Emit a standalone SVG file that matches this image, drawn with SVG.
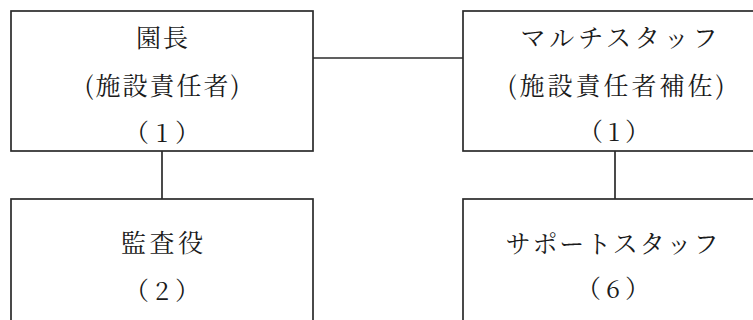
<svg xmlns="http://www.w3.org/2000/svg" width="753" height="320" viewBox="0 0 753 320">
<style>
.box{fill:#fff;stroke:#2b2b2b;stroke-width:1.7}
.ln{stroke:#2b2b2b;stroke-width:1.7;fill:none}
text{font-family:"Noto Serif CJK JP","Noto Sans CJK JP",serif;font-size:25px;fill:#1a1a1a;text-anchor:middle;dominant-baseline:central}
</style>
<rect width="753" height="320" fill="#fff"/>
<g id="connectors">
<line class="ln" x1="313" y1="58" x2="463" y2="58"/>
<line class="ln" x1="162" y1="151" x2="162" y2="199"/>
<line class="ln" x1="615" y1="151" x2="615" y2="199"/>
</g>
<g id="node-encho">
<rect class="box" x="11" y="11" width="302" height="140"/>
<text x="162" y="36" textLength="52" lengthAdjust="spacing">園長</text>
<text x="162" y="84" textLength="155" lengthAdjust="spacing">(施設責任者)</text>
<text x="162" y="131" textLength="76" lengthAdjust="spacing">（1）</text>
</g>
<g id="node-multi">
<rect class="box" x="463" y="11" width="300" height="140"/>
<text x="619" y="36" textLength="197" lengthAdjust="spacing">マルチスタッフ</text>
<text x="616" y="84" textLength="217" lengthAdjust="spacing">(施設責任者補佐)</text>
<text x="614" y="130" textLength="72" lengthAdjust="spacing">（1）</text>
</g>
<g id="node-kansa">
<rect class="box" x="11" y="199" width="302" height="140"/>
<text x="162" y="241" textLength="82" lengthAdjust="spacing">監査役</text>
<text x="162" y="289" textLength="76" lengthAdjust="spacing">（2）</text>
</g>
<g id="node-support">
<rect class="box" x="463" y="199" width="300" height="140"/>
<text x="612" y="242" textLength="213" lengthAdjust="spacing">サポートスタッフ</text>
<text x="613" y="287" textLength="74" lengthAdjust="spacing">（6）</text>
</g>
</svg>
